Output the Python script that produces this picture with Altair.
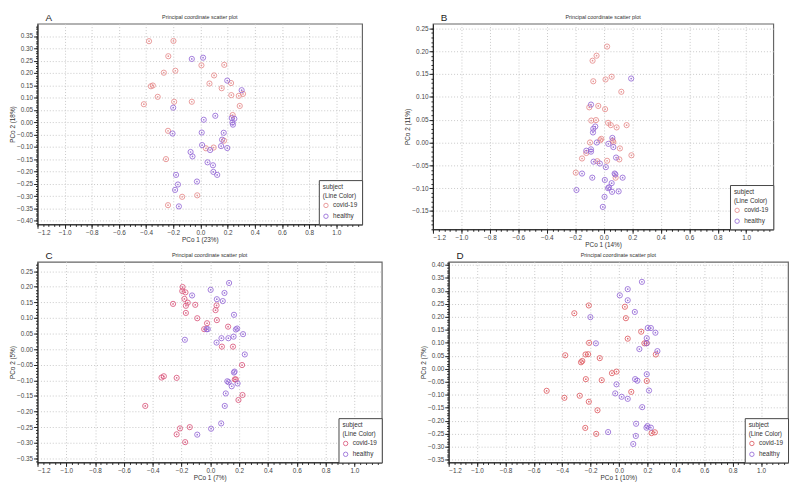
import altair as alt
import pandas as pd
import numpy as np

# ---------------- data ----------------
A_covid_x = [-0.379,-0.199,-0.237,0.007,0.175,-0.270,-0.185,0.100,-0.365,-0.351,0.066,0.225,0.156,-0.315,0.227,0.282,0.313,-0.417,-0.194,-0.064,0.289,0.237,-0.239,0.173,0.040,0.097,-0.254,-0.135,-0.024,-0.239]
A_covid_y = [0.329,0.330,0.268,0.231,0.233,0.201,0.209,0.190,0.146,0.149,0.157,0.159,0.138,0.103,0.110,0.107,0.115,0.073,0.083,0.083,0.066,0.029,-0.035,-0.075,-0.106,-0.103,-0.150,-0.303,-0.297,-0.337]
A_healthy_x = [-0.064,0.019,0.197,0.303,-0.201,0.109,0.024,0.230,0.249,0.235,0.239,0.009,0.171,-0.206,0.159,0.012,0.152,0.197,0.071,-0.073,-0.059,0.052,0.092,0.095,0.123,-0.180,-0.026,-0.166,-0.187,-0.159]
A_healthy_y = [0.257,0.262,0.169,0.130,0.059,0.026,0.010,0.017,0.014,-0.001,-0.010,-0.042,-0.043,-0.046,-0.071,-0.093,-0.097,-0.105,-0.113,-0.121,-0.139,-0.163,-0.175,-0.202,-0.214,-0.214,-0.241,-0.253,-0.275,-0.342]

B_covid_x = [0.023,-0.051,-0.079,-0.074,0.012,0.055,0.123,-0.102,-0.039,0.009,-0.088,-0.055,0.030,0.049,0.090,0.160,-0.025,-0.018,0.062,0.067,-0.097,-0.123,0.113,0.194,-0.153,-0.046,0.023,0.109,-0.197,0.083]
B_covid_y = [0.210,0.190,0.179,0.134,0.138,0.144,0.111,0.077,0.080,0.073,0.048,0.049,0.043,0.038,0.033,0.038,0.005,0.008,0.004,0.001,0.000,-0.023,-0.013,-0.028,-0.035,-0.041,-0.040,-0.037,-0.066,-0.077]
B_healthy_x = [0.192,-0.090,-0.060,-0.074,-0.076,-0.049,0.060,0.032,0.067,-0.123,-0.090,-0.090,-0.072,-0.028,0.086,0.014,0.076,0.081,-0.153,-0.081,0.132,0.007,0.055,0.037,0.030,0.058,0.104,-0.192,0.005,-0.007]
B_healthy_y = [0.140,0.083,0.035,0.030,0.022,0.000,0.010,-0.003,-0.010,-0.018,-0.015,-0.020,-0.042,-0.046,-0.033,-0.054,-0.068,-0.070,-0.068,-0.077,-0.077,-0.082,-0.089,-0.098,-0.100,-0.108,-0.107,-0.104,-0.119,-0.141]

C_covid_x = [-0.193,-0.195,-0.173,-0.180,-0.157,-0.259,-0.170,-0.105,0.043,0.036,-0.170,-0.091,-0.023,0.045,0.123,-0.043,0.080,0.157,0.220,-0.339,-0.323,-0.234,0.170,0.177,0.223,0.195,-0.452,-0.211,-0.143,-0.234,-0.175]
C_covid_y = [0.199,0.186,0.182,0.161,0.149,0.145,0.139,0.142,0.140,0.125,0.116,0.099,0.083,0.093,0.072,0.064,0.008,0.008,-0.051,-0.091,-0.087,-0.092,-0.097,-0.097,-0.147,-0.163,-0.182,-0.254,-0.250,-0.273,-0.298]
C_healthy_x = [0.130,0.002,0.098,-0.127,0.045,0.086,0.164,-0.027,-0.018,0.177,0.186,0.077,0.125,0.161,0.227,0.043,-0.177,0.239,0.168,0.164,0.118,0.127,0.189,0.148,0.107,0.100,0.075,0.005,-0.091]
C_healthy_y = [0.212,0.190,0.180,0.172,0.160,0.154,0.110,0.064,0.064,0.063,0.066,0.035,0.035,0.040,0.048,0.021,0.030,-0.017,-0.072,-0.075,-0.103,-0.106,-0.110,-0.119,-0.142,-0.182,-0.238,-0.255,-0.274]

D_covid_x = [-0.213,-0.315,0.041,0.048,0.156,0.061,-0.211,0.179,0.195,-0.379,-0.236,-0.218,-0.136,-0.259,-0.268,0.259,-0.050,-0.018,-0.234,-0.122,0.195,-0.510,-0.385,-0.277,0.086,-0.213,-0.152,-0.238,-0.161,0.229,0.252]
D_covid_y = [0.244,0.214,0.239,0.195,0.143,0.116,0.100,0.098,0.099,0.052,0.055,0.056,0.041,0.030,0.025,0.055,-0.017,-0.011,-0.040,-0.044,-0.047,-0.085,-0.112,-0.104,-0.089,-0.127,-0.160,-0.228,-0.251,-0.248,-0.245]
D_healthy_x = [0.161,0.061,0.005,0.061,0.111,-0.202,0.202,0.224,0.256,0.195,0.193,-0.163,0.143,0.270,0.195,0.113,0.129,-0.018,0.211,-0.027,0.018,0.061,0.163,0.120,0.200,0.193,0.224,-0.077,0.118,0.100]
D_healthy_y = [0.335,0.307,0.283,0.264,0.219,0.199,0.157,0.157,0.139,0.118,0.098,0.098,0.076,0.068,-0.021,-0.040,-0.046,-0.060,-0.084,-0.095,-0.108,-0.116,-0.148,-0.212,-0.221,-0.227,-0.227,-0.244,-0.259,-0.290]

groups = ["covid-19", "healthy"]
x_ticks = [-1.2, -1.0, -0.8, -0.6, -0.4, -0.2, 0.0, 0.2, 0.4, 0.6, 0.8, 1.0]
plot_title = "Principal coordinate scatter plot"

panels = [
    dict(letter="A", cx=A_covid_x, cy=A_covid_y, hx=A_healthy_x, hy=A_healthy_y,
         xt="PCo 1 (23%)", yt="PCo 2 (18%)", ydom=[-0.415, 0.40], ylo=-0.40, yhi=0.35,
         w=330, h=204, cols=["#e68a8a", "#9366d6"]),
    dict(letter="B", cx=B_covid_x, cy=B_covid_y, hx=B_healthy_x, hy=B_healthy_y,
         xt="PCo 1 (14%)", yt="PCo 2 (11%)", ydom=[-0.19, 0.26], ylo=-0.15, yhi=0.25,
         w=346, h=209, cols=["#e68a8a", "#9366d6"]),
    dict(letter="C", cx=C_covid_x, cy=C_covid_y, hx=C_healthy_x, hy=C_healthy_y,
         xt="PCo 1 (7%)", yt="PCo 2 (5%)", ydom=[-0.363, 0.28], ylo=-0.35, yhi=0.25,
         w=350, h=204, cols=["#d9557a", "#9366d6"]),
    dict(letter="D", cx=D_covid_x, cy=D_covid_y, hx=D_healthy_x, hy=D_healthy_y,
         xt="PCo 1 (10%)", yt="PCo 2 (7%)", ydom=[-0.361, 0.4125], ylo=-0.35, yhi=0.40,
         w=345, h=204, cols=["#de5a60", "#9366d6"]),
]

FONT = "Liberation Sans"


def make_panel(p):
    df = pd.DataFrame({
        "x": p["cx"] + p["hx"],
        "y": p["cy"] + p["hy"],
        "subject": [groups[0]] * len(p["cx"]) + [groups[1]] * len(p["hx"]),
    })
    n_y = int(round((p["yhi"] - p["ylo"]) / 0.05)) + 1
    y_ticks = [round(p["ylo"] + 0.05 * i, 2) for i in range(n_y)]
    y_minor = [round(v, 3) for v in np.arange(-0.5, 0.5, 0.01) if p["ydom"][0] <= v <= p["ydom"][1]]
    x_minor = [round(v, 3) for v in np.arange(-1.2, 1.2, 0.04)]

    xs = alt.Scale(domain=[-1.2, 1.19], nice=False, zero=False)
    ys = alt.Scale(domain=p["ydom"], nice=False, zero=False)
    cscale = alt.Scale(domain=groups, range=p["cols"])

    base = alt.Chart(df)
    main_x = alt.X("x:Q", scale=xs, title=p["xt"],
                   axis=alt.Axis(values=x_ticks, format=".1f", grid=True, gridDash=[1, 2],
                                 gridColor="#c8c8c8", tickSize=4, tickColor="#222",
                                 domainColor="#222", labelFontSize=6.5, labelColor="#444",
                                 titleFontSize=6.5, titleFontWeight="normal", titleColor="#333",
                                 titlePadding=1, labelPadding=1, labelFont=FONT, titleFont=FONT))
    main_y = alt.Y("y:Q", scale=ys, title=p["yt"],
                   axis=alt.Axis(values=y_ticks, format=".2f", grid=True, gridDash=[1, 2],
                                 gridColor="#c8c8c8", tickSize=4, tickColor="#222",
                                 domainColor="#222", labelFontSize=6.5, labelColor="#444",
                                 titleFontSize=6.5, titleFontWeight="normal", titleColor="#333",
                                 titlePadding=1, labelPadding=1, labelFont=FONT, titleFont=FONT))

    rings = base.mark_point(shape="circle", filled=False, size=28, strokeWidth=1, opacity=0.85).encode(
        x=main_x, y=main_y,
        stroke=alt.Stroke("subject:N", scale=cscale,
                          legend=alt.Legend(title=["subject", "(Line Color)"], orient="bottom-right",
                                            offset=0, strokeColor="#444", fillColor="white",
                                            padding=4, titleFontSize=6.5, titleFontWeight="normal",
                                            labelFontSize=6.5, symbolSize=20, symbolStrokeWidth=1,
                                            symbolType="circle", symbolFillColor="transparent",
                                            titleColor="#333", labelColor="#333",
                                            rowPadding=2, titlePadding=3, labelFont=FONT,
                                            titleFont=FONT, titleLineHeight=9)))
    dot_layers = []
    for g, c in zip(groups, p["cols"]):
        dot_layers.append(
            base.transform_filter(alt.datum.subject == g).mark_point(
                shape="circle", filled=True, size=3, opacity=0.9, color=c).encode(
                x=alt.X("x:Q", scale=xs, axis=None), y=alt.Y("y:Q", scale=ys, axis=None)))
    minor = base.mark_point(opacity=0).encode(
        x=alt.X("x:Q", scale=xs, title=None,
                axis=alt.Axis(values=x_minor, labels=False, grid=False, domain=False,
                              tickSize=2, tickColor="#222", orient="bottom")),
        y=alt.Y("y:Q", scale=ys, title=None,
                axis=alt.Axis(values=y_minor, labels=False, grid=False, domain=False,
                              tickSize=2, tickColor="#222", orient="left")))
    labels = alt.Chart(pd.DataFrame({"t": [p["letter"]]}))
    letter = labels.mark_text(
        fontSize=10, font=FONT, color="#222", align="left", baseline="bottom").encode(
        text="t:N", x=alt.value(8), y=alt.value(-1))
    title = labels.mark_text(
        fontSize=5.5, font=FONT, color="#333", align="center", baseline="bottom",
        text=plot_title).encode(x=alt.value(p["w"] / 2), y=alt.value(-4))

    layer = alt.layer(rings, *dot_layers, minor, letter, title).resolve_axis(
        x="independent", y="independent").properties(width=p["w"], height=p["h"])
    return layer


charts = [make_panel(p) for p in panels]
top = alt.hconcat(charts[0], charts[1], spacing=40).resolve_scale(stroke="independent")
bottom = alt.hconcat(charts[2], charts[3], spacing=36).resolve_scale(stroke="independent")
chart = alt.vconcat(top, bottom, spacing=1).resolve_scale(stroke="independent").properties(
    padding=0).configure_view(stroke="#666", strokeWidth=1.2)

chart.save("out.html", embed_options={"renderer": "svg", "actions": False})
